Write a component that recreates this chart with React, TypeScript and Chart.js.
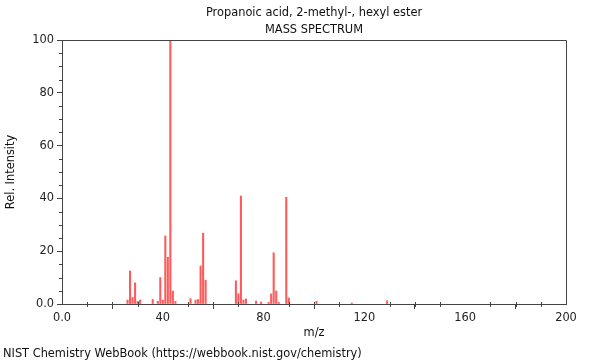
import React, { useEffect, useRef } from "react";
import { Chart, registerables } from "chart.js";

Chart.register(...registerables);

const mzValues = [26, 27, 28, 29, 30, 31, 36, 38, 39, 40, 41, 42, 43, 44, 45, 51, 53, 54, 55, 56, 57, 69, 70, 71, 72, 73, 77, 79, 82, 83, 84, 85, 86, 89, 90, 101, 115, 129];
const intensities = [1.5, 12.5, 2.5, 8, 1, 1.5, 1.7, 1, 10, 1.5, 25.8, 17.7, 100, 4.9, 1, 2, 1.5, 1.7, 14.4, 26.8, 9, 8.8, 3.9, 40.9, 1.5, 1.9, 1.1, 0.7, 0.6, 3.8, 19.4, 4.9, 0.6, 40.4, 2.3, 1.0, 0.4, 1.2];
const xMajorTicks = [0, 40, 80, 120, 160, 200];
const yMajorTicks = [0, 20, 40, 60, 80, 100];
const titleText = "Propanoic acid, 2-methyl-, hexyl ester";
const subtitleText = "MASS SPECTRUM";
const xLabel = "m/z";
const yLabel = "Rel. Intensity";
const footerText = "NIST Chemistry WebBook (https://webbook.nist.gov/chemistry)";

const FONT = "DejaVu Sans, sans-serif";
const FS = 11.4;
const AXIS = "#444";

const decorPlugin = {
  id: "decor",
  afterDraw(chart: any) {
    const { ctx, chartArea: a, scales } = chart;
    const xs = scales.x;
    const ys = scales.y;
    ctx.save();
    ctx.strokeStyle = AXIS;
    ctx.lineWidth = 1;
    ctx.beginPath();
    ctx.moveTo(a.left, a.top + 0.5);
    ctx.lineTo(a.right + 0.5, a.top + 0.5);
    ctx.lineTo(a.right + 0.5, a.bottom);
    ctx.stroke();
    ctx.beginPath();
    for (let v = 0; v <= 200; v += 10) {
      if (v % 40 === 0) continue;
      const px = Math.round(xs.getPixelForValue(v)) + 0.5;
      ctx.moveTo(px, a.bottom - 2);
      ctx.lineTo(px, a.bottom + 3);
    }
    for (let v = 0; v <= 100; v += 5) {
      if (v % 20 === 0) continue;
      const py = Math.round(ys.getPixelForValue(v)) + 0.5;
      ctx.moveTo(a.left - 3, py);
      ctx.lineTo(a.left + 1, py);
    }
    ctx.stroke();
    ctx.fillStyle = "#111";
    ctx.font = `${FS}px ${FONT}`;
    ctx.textAlign = "center";
    ctx.textBaseline = "middle";
    const cx = (a.left + a.right) / 2;
    ctx.fillText(titleText, cx, 13);
    ctx.fillText(subtitleText, cx, 30);
    ctx.fillText(xLabel, cx, 333);
    ctx.textAlign = "left";
    ctx.fillText(footerText, 3, 354);
    ctx.translate(11, (a.top + a.bottom) / 2);
    ctx.rotate(-Math.PI / 2);
    ctx.textAlign = "center";
    ctx.fillText(yLabel, 0, 0);
    ctx.restore();
  },
};

export default function App() {
  const ref = useRef<HTMLCanvasElement>(null);
  useEffect(() => {
    document.body.style.margin = "0";
    const canvas = ref.current!;
    const chart = new Chart(canvas, {
      type: "bar",
      data: {
        datasets: [
          {
            data: mzValues.map((m, i) => ({ x: m, y: intensities[i] })),
            backgroundColor: "rgba(255,60,60,0.85)",
            barThickness: 1.4,
            borderWidth: 0,
          },
        ],
      },
      options: {
        animation: false,
        responsive: false,
        maintainAspectRatio: false,
        layout: { padding: { top: 40, right: 34, left: 0, bottom: 0 } },
        plugins: {
          legend: { display: false },
          tooltip: { enabled: false },
          title: { display: false },
        },
        scales: {
          x: {
            type: "linear",
            min: 0,
            max: 200,
            offset: false,
            afterFit: (s: any) => {
              s.height = 56;
            },
            afterBuildTicks: (s: any) => {
              s.ticks = xMajorTicks.map((v) => ({ value: v }));
            },
            ticks: {
              autoSkip: false,
              maxRotation: 0,
              padding: 2,
              color: "#222",
              font: { family: FONT, size: FS },
              callback: (v: any) => (v === 0 ? "0.0" : String(v)),
            },
            grid: { display: true, drawOnChartArea: false, drawTicks: true, tickLength: 5, color: AXIS },
            border: { display: true, color: AXIS },
          },
          y: {
            type: "linear",
            min: 0,
            max: 100,
            afterFit: (s: any) => {
              s.width = 62;
            },
            afterBuildTicks: (s: any) => {
              s.ticks = yMajorTicks.map((v) => ({ value: v }));
            },
            ticks: {
              autoSkip: false,
              padding: 3,
              color: "#222",
              font: { family: FONT, size: FS },
              callback: (v: any) => (v === 0 ? "0.0" : String(v)),
            },
            grid: { display: true, drawOnChartArea: false, drawTicks: true, tickLength: 5, color: AXIS },
            border: { display: true, color: AXIS },
          },
        },
      },
      plugins: [decorPlugin],
    } as any);
    return () => chart.destroy();
  }, []);
  return <canvas ref={ref} width={600} height={360} style={{ display: "block" }} />;
}
